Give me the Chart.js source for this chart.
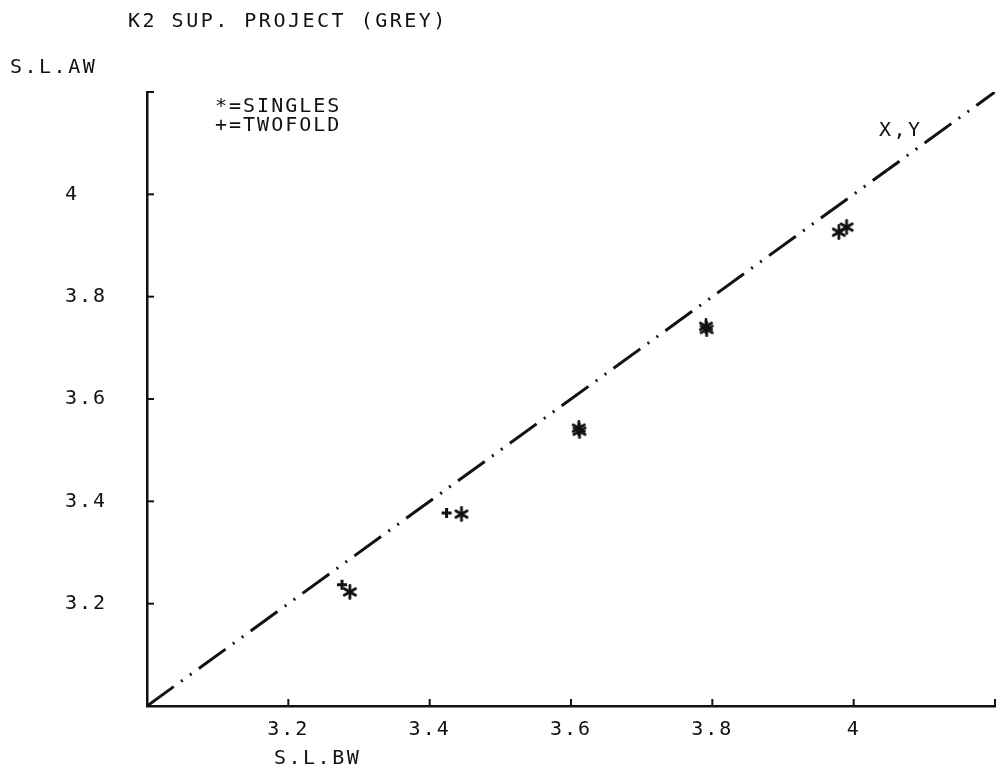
<style>
    body { margin: 0; background: #fff; }
    canvas { display: block; }
</style>
<canvas id="myChart" width="1007" height="774"></canvas>
<script src="https://cdn.jsdelivr.net/npm/chart.js@4.4.1/dist/chart.umd.min.js"></script>
<script>
    // values (S.L.BW on x, S.L.AW on y)
    const singlesX = [3.287, 3.445, 3.611, 3.612, 3.791, 3.792, 3.979, 3.990]
    const singlesY = [3.223, 3.375, 3.543, 3.537, 3.742, 3.736, 3.926, 3.936]
    const twofoldX = [3.276, 3.424]
    const twofoldY = [3.237, 3.377]
    // x = y reference line
    const refLine = [3.0, 4.2]
    const tickValues = [3.0, 3.2, 3.4, 3.6, 3.8, 4.0, 4.2]

    const ink = '#111'
    const plotFont = '"DejaVu Sans Mono", monospace'

    // asterisk marker like the plotter's "*"
    const star = document.createElement('canvas')
    star.width = 16
    star.height = 16
    const sctx = star.getContext('2d')
    sctx.strokeStyle = ink
    sctx.lineWidth = 2.8
    sctx.lineCap = 'round'
    for (let a = 0; a < 3; a++) {
        const ang = Math.PI / 2 + a * Math.PI / 3
        sctx.beginPath()
        sctx.moveTo(8 - 6.5 * Math.cos(ang), 8 - 6.5 * Math.sin(ang))
        sctx.lineTo(8 + 6.5 * Math.cos(ang), 8 + 6.5 * Math.sin(ang))
        sctx.stroke()
    }

    function label(v) {
        if (Math.abs(v - 3) < 1e-6 || Math.abs(v - 4.2) < 1e-6) return ''
        return String(Math.round(v * 10) / 10)
    }

    // plotter style spacing for all text
    const spacing = {
        id: 'spacing',
        beforeLayout(chart) { chart.ctx.letterSpacing = '2px' },
        beforeDraw(chart) {
            const ctx = chart.ctx
            ctx.letterSpacing = '2px'
            ctx.save()
            ctx.fillStyle = '#fff'
            ctx.fillRect(0, 0, chart.width, chart.height)
            ctx.restore()
        }
    }

    // inward tick marks and free text
    const extras = {
        id: 'extras',
        afterDatasetsDraw(chart) {
            const ctx = chart.ctx
            const xs = chart.scales.x, ys = chart.scales.y
            const area = chart.chartArea
            ctx.save()
            ctx.strokeStyle = ink
            ctx.lineWidth = 2
            xs.ticks.forEach(t => {
                const px = xs.getPixelForValue(t.value)
                ctx.beginPath()
                ctx.moveTo(px, area.bottom)
                ctx.lineTo(px, area.bottom - 7)
                ctx.stroke()
            })
            ys.ticks.forEach(t => {
                const py = ys.getPixelForValue(t.value)
                ctx.beginPath()
                ctx.moveTo(area.left, py)
                ctx.lineTo(area.left + 7, py)
                ctx.stroke()
            })
            ctx.fillStyle = ink
            ctx.font = '20px ' + plotFont
            ctx.letterSpacing = '2.5px'
            ctx.textBaseline = 'middle'
            ctx.textAlign = 'left'
            ctx.fillText('K2 SUP. PROJECT (GREY)', 128, 22)
            ctx.fillText('S.L.AW', 10, 68)
            ctx.fillText('S.L.BW', 274, 759)
            ctx.fillText('X,Y', 879, 131)
            ctx.letterSpacing = '2px'
            ctx.fillText('*=SINGLES', 215, 107)
            ctx.fillText('+=TWOFOLD', 215, 126)
            ctx.restore()
        }
    }

    const ctx = document.getElementById('myChart')
    const myChart = new Chart(ctx, {
        type: 'scatter',
        data: {
            datasets: [{
                label: 'X,Y',
                type: 'line',
                data: refLine.map(v => ({ x: v, y: v })),
                borderColor: ink,
                borderWidth: 3,
                borderDash: [33, 9, 2, 9, 2, 9],
                pointRadius: 0,
                fill: false
            }, {
                label: 'SINGLES',
                data: singlesX.map((x, i) => ({ x: x, y: singlesY[i] })),
                pointStyle: star,
                pointRadius: 7
            }, {
                label: 'TWOFOLD',
                data: twofoldX.map((x, i) => ({ x: x, y: twofoldY[i] })),
                pointStyle: 'cross',
                pointRadius: 5,
                borderColor: ink,
                borderWidth: 3
            }]
        },
        options: {
            responsive: false,
            animation: false,
            layout: { padding: { left: 65, right: 2, top: 92, bottom: 0 } },
            plugins: {
                legend: { display: false },
                tooltip: { enabled: false }
            },
            scales: {
                x: {
                    type: 'linear',
                    min: 3,
                    max: 4.2,
                    afterFit(scale) { scale.height = 68 },
                    afterBuildTicks(scale) { scale.ticks = tickValues.map(v => ({ value: v })) },
                    grid: { display: true, drawOnChartArea: false, drawTicks: false },
                    border: { display: true, color: ink, width: 2.5 },
                    ticks: {
                        padding: 12,
                        maxRotation: 0,
                        autoSkip: false,
                        color: ink,
                        font: { family: plotFont, size: 20 },
                        callback: label
                    }
                },
                y: {
                    type: 'linear',
                    min: 3,
                    max: 4.2,
                    afterFit(scale) { scale.width = 82 },
                    afterBuildTicks(scale) { scale.ticks = tickValues.map(v => ({ value: v })) },
                    grid: { display: true, drawOnChartArea: false, drawTicks: false },
                    border: { display: true, color: ink, width: 2.5 },
                    ticks: {
                        crossAlign: 'far',
                        autoSkip: false,
                        color: ink,
                        font: { family: plotFont, size: 20 },
                        callback: label
                    }
                }
            }
        },
        plugins: [spacing, extras]
    });
</script>
